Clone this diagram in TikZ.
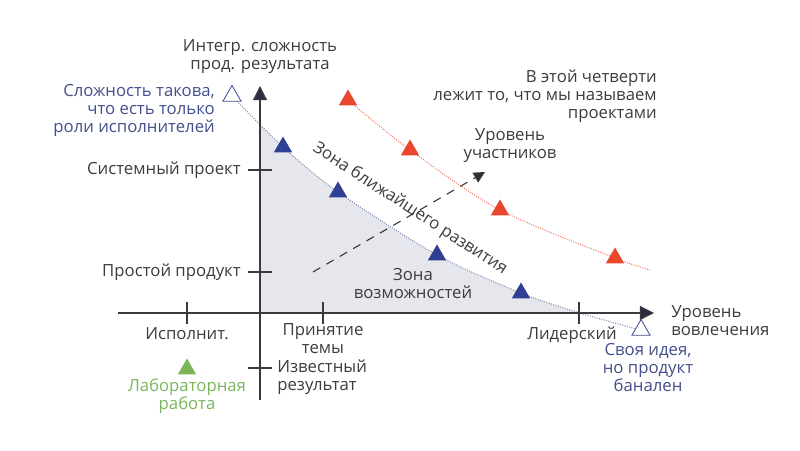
\documentclass[tikz,border=0pt]{standalone}
\usepackage{fontspec}
\setmainfont{Open Sans}
\usetikzlibrary{arrows.meta,shapes.geometric}
\definecolor{axisgray}{HTML}{3A3A3E}
\definecolor{tipnavy}{HTML}{2B2D40}
\definecolor{textgray}{HTML}{3C3C3C}
\definecolor{idblue}{HTML}{434F8C}
\definecolor{triblue}{HTML}{2F3F94}
\definecolor{trired}{HTML}{E8472D}
\definecolor{labgreen}{HTML}{7AB55C}
\definecolor{zonegray}{HTML}{E6E7EC}
\tikzset{
  lbl/.style={font=\fontsize{11.9pt}{12.8pt}\selectfont, text=textgray, inner sep=0pt, align=center},
  tri/.style={regular polygon, regular polygon sides=3, minimum size=15pt, inner sep=0pt},
  bluetri/.style={tri, fill=triblue},
  redtri/.style={tri, fill=trired},
  hollowtri/.style={tri, draw=idblue, fill=white, line width=0.6pt},
  axis/.style={axisgray, line width=0.8pt, -{Triangle[length=10pt,width=10pt,fill=tipnavy]}},
  tick/.style={axisgray, line width=0.8pt}
}
\begin{document}
\begin{tikzpicture}[x=0.025cm,y=-0.025cm]
    \useasboundingbox (0,0) rectangle (800,450);
    \begin{scope}
        \clip (260,80) rectangle (700,313);
        \fill[zonegray] plot[smooth] coordinates {(232,96) (283,147) (338,192) (437,255) (521,293) (580,313) (640,330)} -- (232,340) -- cycle;
    \end{scope}
    \draw[idblue!70, densely dotted, line width=0.7pt] plot[smooth] coordinates {(232,96) (283,147) (338,192) (437,255) (521,293) (580,313) (640,330)};
    \draw[trired!80, densely dotted, line width=0.7pt] plot[smooth] coordinates {(348,100) (410,150) (500,210) (615,258) (650,270)};
    \coordinate (dashstart) at (313,272);
    \coordinate (dashend) at (485,172);
    \draw[axisgray, dash pattern=on 6pt off 5pt, line width=0.8pt, -{Triangle[length=8pt,width=8pt,fill=tipnavy]}] (dashstart) -- (dashend);
    \coordinate (ybot) at (260,400);
    \coordinate (ytop) at (260,86);
    \coordinate (xleft) at (118,313);
    \coordinate (xright) at (654,313);
    \draw[axis] (ybot) -- (ytop);
    \draw[axis] (xleft) -- (xright);
    \draw[tick] (248,170) -- (272,170);
    \draw[tick] (248,272) -- (272,272);
    \draw[tick] (248,368) -- (272,368);
    \draw[tick] (187,302) -- (187,324);
    \draw[tick] (323,302) -- (323,324);
    \draw[tick] (579,302) -- (579,324);
    \node [bluetri] (b1) at (283,147) {};
    \node [bluetri] (b2) at (338,192) {};
    \node [bluetri] (b3) at (437,255) {};
    \node [bluetri] (b4) at (521,293) {};
    \node [redtri] (r1) at (348,100) {};
    \node [redtri] (r2) at (410,150) {};
    \node [redtri] (r3) at (500,210) {};
    \node [redtri] (r4) at (615,258) {};
    \node [hollowtri] (h1) at (232,96) {};
    \node [hollowtri] (h2) at (641,330) {};
    \node [tri, fill=labgreen] (lab) at (187,369) {};
    \node [lbl] (ytitle) at (260,57) {Интегр. сложность\\прод. результата};
    \node [lbl, text=idblue, align=right, anchor=east] (roles) at (215,110) {Сложность такова,\\что есть только\\роли исполнителей};
    \node [lbl, anchor=east] (sysproj) at (241,170) {Системный проект};
    \node [lbl, anchor=east] (simple) at (241,272) {Простой продукт};
    \node [lbl] (ispoln) at (187,334) {Исполнит.};
    \node [lbl] (theme) at (323,339) {Принятие\\темы};
    \node [lbl, align=left, anchor=west] (known) at (277,377) {Известный\\результат};
    \node [lbl, text=labgreen] (labtext) at (187,396) {Лабораторная\\работа};
    \node [lbl] (leader) at (572,335) {Лидерский};
    \node [lbl, align=left, anchor=west] (xtitle) at (671,321) {Уровень\\вовлечения};
    \node [lbl, text=idblue] (ownidea) at (648,368) {Своя идея,\\но продукт\\банален};
    \node [lbl, align=right, anchor=east] (quarter) at (657,96) {В этой четверти\\лежит то, что мы называем\\проектами};
    \node [lbl] (members) at (510,146) {Уровень\\участников};
    \node [lbl, rotate=-33] (zbr) at (410,209) {Зона ближайшего развития};
    \node [lbl] (zvoz) at (413,284) {Зона\\возможностей};
\end{tikzpicture}
\end{document}
